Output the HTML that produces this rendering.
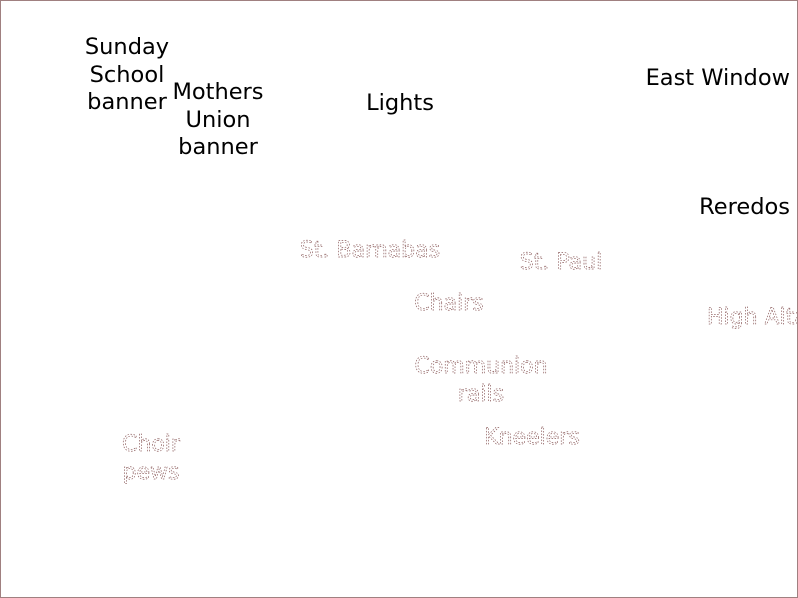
<!DOCTYPE html>
<html><head><meta charset="utf-8"><style>
html,body{margin:0;padding:0;background:#fff;}
.wrap{position:relative;width:796px;height:596px;border:1px solid #a08080;overflow:hidden;font-family:"DejaVu Sans",sans-serif;}
.t{position:absolute;font-size:22.5px;color:#000;text-align:center;line-height:27.5px;white-space:nowrap;}
svg{position:absolute;left:0;top:0;}
</style></head><body><div class="wrap">
<div class="t" style="left:76px;top:33px;width:100px;">Sunday<br>School<br>banner</div>
<div class="t" style="left:167px;top:78px;width:100px;">Mothers<br>Union<br>banner</div>
<div class="t" style="left:349px;top:89px;width:100px;">Lights</div>
<div class="t" style="right:7px;top:64px;text-align:right;">East Window</div>
<div class="t" style="right:7px;top:193px;text-align:right;">Reredos</div>
<svg width="798" height="598" font-family="DejaVu Sans, sans-serif" font-size="22" fill="none" stroke="#8a5a5a" stroke-width="0.7" stroke-dasharray="1.5,1.5" text-anchor="middle">
<text x="369" y="256">St. Barnabas</text>
<text x="560" y="268">St. Paul</text>
<text x="448" y="309">Chairs</text>
<text x="480" y="372">Communion</text>
<text x="480" y="400">rails</text>
<text x="150" y="450">Choir</text>
<text x="150" y="478">pews</text>
<text x="531" y="443">Kneelers</text>
<text x="706" y="323" text-anchor="start">High Altar</text>
</svg>
</div></body></html>
